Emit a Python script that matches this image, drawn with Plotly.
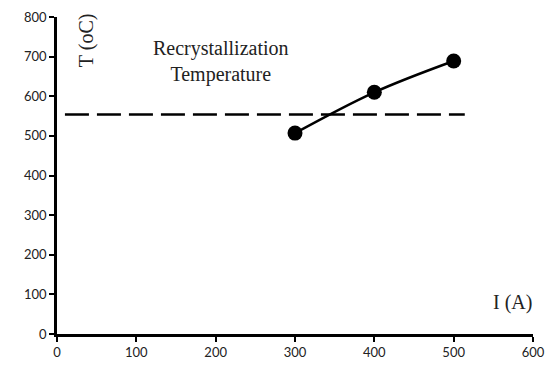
import plotly.graph_objects as go

current = [300, 400, 500]
temperature = [507, 610, 689]
recryst_x = [10, 514]
recryst_y = [554, 554]
x_ticks = [0, 100, 200, 300, 400, 500, 600]
y_ticks = [0, 100, 200, 300, 400, 500, 600, 700, 800]

fig = go.Figure()
fig.add_trace(go.Scatter(x=recryst_x, y=recryst_y, mode="lines",
                         line=dict(color="black", width=2.5, dash="24px,8px"),
                         showlegend=False, hoverinfo="skip"))
fig.add_trace(go.Scatter(x=current, y=temperature, mode="lines+markers",
                         line=dict(color="black", width=2.5, shape="spline"),
                         marker=dict(color="black", size=15),
                         showlegend=False))

axis_common = dict(showgrid=False, zeroline=False, showline=True, linecolor="black",
                   linewidth=2.5, ticks="outside", ticklen=5, tickwidth=1.5, automargin=False,
                   tickcolor="black", tickfont=dict(family="Lato", size=13, color="#222"))
fig.update_xaxes(range=[0, 600], tickvals=x_ticks, **axis_common)
fig.update_yaxes(range=[0, 800], tickvals=y_ticks, **axis_common)

serif = dict(family="Liberation Serif", size=20, color="#222")
fig.add_annotation(x=207, y=688, text="Recrystallization<br>Temperature", showarrow=False,
                   font=serif, xref="x", yref="y")
fig.add_annotation(x=38, y=742, text="T (oC)", textangle=-90, showarrow=False,
                   font=serif, xref="x", yref="y")
fig.add_annotation(x=574, y=79, text="I (A)", showarrow=False, font=serif, xref="x", yref="y")

fig.update_layout(width=553, height=367, margin=dict(l=49, r=28, t=9, b=41, autoexpand=False),
                  plot_bgcolor="white", paper_bgcolor="white")
fig.write_html("out.html")
